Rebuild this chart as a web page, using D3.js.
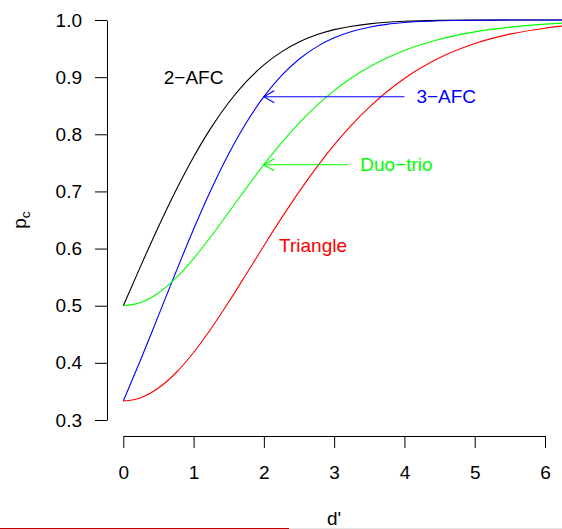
<!DOCTYPE html>
<html><head><meta charset="utf-8">
<script src="https://cdn.jsdelivr.net/npm/d3@7"></script>
<style>
body{margin:0;background:#fff}
svg{display:block}
text{font-family:"Liberation Sans",Arial,Helvetica,sans-serif}
</style>
</head><body>
<svg id="chart" width="562" height="529"></svg>
<script>
// d' grid
const dPrime = [0,0.25,0.5,0.75,1,1.25,1.5,1.75,2,2.25,2.5,2.75,3,3.25,3.5,3.75,4,4.5,5,5.5,6,6.25];
// proportion correct for each protocol
const pc2AFC     = [0.5,0.5702,0.6382,0.7021,0.7602,0.8116,0.8556,0.8920,0.9214,0.9442,0.9615,0.9741,0.9831,0.9892,0.9933,0.9960,0.9977,0.9993,0.9998,0.9999,1.0,1.0];
const pc3AFC     = [0.3333,0.4064,0.4826,0.5593,0.6337,0.7032,0.7658,0.8202,0.8658,0.9026,0.9314,0.9530,0.9688,0.9799,0.9874,0.9924,0.9955,0.9986,0.9996,0.9999,1.0,1.0];
const pcDuoTrio  = [0.5,0.5057,0.5223,0.5486,0.5825,0.6216,0.6635,0.7058,0.7468,0.7850,0.8196,0.8501,0.8765,0.8989,0.9178,0.9336,0.9467,0.9662,0.9792,0.9876,0.9928,0.9946];
const pcTriangle = [0.3333,0.3391,0.3559,0.3827,0.4181,0.4601,0.5065,0.5554,0.6048,0.6532,0.6993,0.7422,0.7814,0.8165,0.8475,0.8745,0.8977,0.9338,0.9588,0.9753,0.9857,0.9893];

const seriesNames  = ["2\u2212AFC","3\u2212AFC","Duo\u2212trio","Triangle"];
const seriesColors = ["#000000","#0000ff","#00ff00","#ff0000"];

const xTicks = [0,1,2,3,4,5,6];
const yTicks = [0.3,0.4,0.5,0.6,0.7,0.8,0.9,1.0];

// plain text labels (2-AFC, Triangle) placed in data coordinates
const plainLabelD  = [1.0, 2.7];
const plainLabelPc = [0.9, 0.605];
// arrowed labels (3-AFC, Duo-trio): arrow from tailD to tipD at the curve value at tipD
const arrowTailD = [4.0, 3.2];
const arrowTipD  = [2, 2];

const svg = d3.select("#chart");
const x = d3.scaleLinear().domain([0,6]).range([123.3,545]);
const y = d3.scaleLinear().domain([0.3,1.0]).range([420,20]);
const FS = 19;

// axes
const yAxis = d3.axisLeft(y).tickValues(yTicks).tickFormat(d3.format(".1f")).tickSize(12).tickSizeOuter(0).tickPadding(13);
const gy = svg.append("g").attr("transform","translate(107,0)").call(yAxis);
const xAxis = d3.axisBottom(x).tickValues(xTicks).tickFormat(d3.format("d")).tickSize(12).tickSizeOuter(0).tickPadding(18);
const gx = svg.append("g").attr("transform","translate(0,436)").call(xAxis);
[gx,gy].forEach(g=>{
  g.selectAll("path,line").attr("stroke","#000").attr("stroke-width",1);
  g.selectAll("text").attr("font-size",FS).attr("fill","#000").attr("font-family",null);
});

// axis titles
svg.append("text").attr("x",334).attr("y",525).attr("text-anchor","middle")
  .attr("font-size",FS).text("d'");
const yl = svg.append("text").attr("transform","translate(26,220) rotate(-90)")
  .attr("text-anchor","middle").attr("font-size",FS);
yl.append("tspan").text("p");
yl.append("tspan").attr("font-size",FS*0.72).attr("dy",4).text("c");

// curves
const allSeries = [pc2AFC,pc3AFC,pcDuoTrio,pcTriangle];
const line = d3.line().x(d=>x(d[0])).y(d=>y(d[1])).curve(d3.curveMonotoneX);
allSeries.forEach((vals,i)=>{
  svg.append("path").datum(dPrime.map((d,j)=>[d,vals[j]]))
    .attr("fill","none").attr("stroke",seriesColors[i]).attr("stroke-width",1.1)
    .attr("d",line);
});

// plain labels
[0,3].forEach((si,k)=>{
  svg.append("text").attr("x",x(plainLabelD[k])).attr("y",y(plainLabelPc[k]))
    .attr("dy","0.35em").attr("text-anchor","middle").attr("font-size",FS)
    .attr("fill",seriesColors[si]).text(seriesNames[si]);
});

// arrowed labels
[1,2].forEach((si,k)=>{
  const idx = dPrime.indexOf(arrowTipD[k]);
  const pcv = allSeries[si][idx];
  const tx = x(arrowTipD[k]), ty = y(pcv), sx = x(arrowTailD[k]);
  const g = svg.append("g").attr("stroke",seriesColors[si]).attr("stroke-width",1.1).attr("fill","none");
  g.append("line").attr("x1",sx).attr("y1",ty).attr("x2",tx).attr("y2",ty);
  const L = 12, a = Math.PI/6;
  g.append("path").attr("d",`M${tx+L*Math.cos(a)},${ty-L*Math.sin(a)}L${tx},${ty}L${tx+L*Math.cos(a)},${ty+L*Math.sin(a)}`);
  svg.append("text").attr("x",sx+12).attr("y",ty).attr("dy","0.35em")
    .attr("font-size",FS).attr("fill",seriesColors[si]).text(seriesNames[si]);
});

// thin bar at the very bottom edge seen in the reference
svg.append("rect").attr("x",0).attr("y",528).attr("width",289).attr("height",1).attr("fill","#c00000");
svg.append("rect").attr("x",289).attr("y",528).attr("width",273).attr("height",1).attr("fill","#e6e6e6");
</script>
</body></html>
